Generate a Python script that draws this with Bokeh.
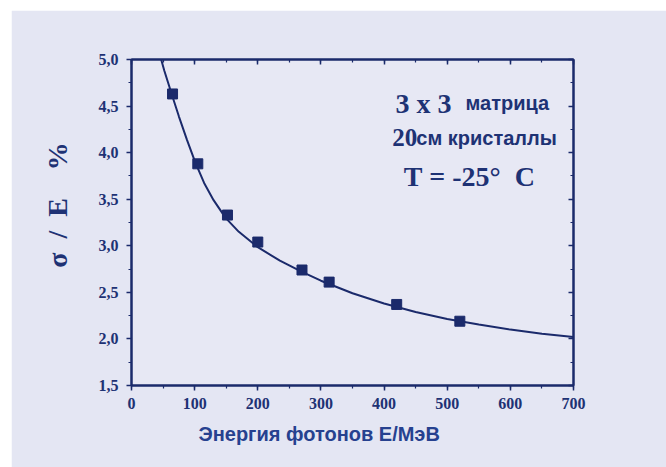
from bokeh.plotting import figure
from bokeh.models import (Range1d, LinearAxis, SingleIntervalTicker,
                          CustomJSTickFormatter, Label)
from bokeh.embed import file_html
from bokeh.resources import INLINE

# measured points
energy = [65, 105, 152, 200, 270, 313, 420, 520]
resolution = [4.63, 3.88, 3.33, 3.04, 2.74, 2.61, 2.37, 2.19]

# fitted curve
fit_energy = [47, 52, 58, 65, 75, 88, 101, 115, 130, 149, 170, 200, 235,
              270, 300, 350, 400, 450, 500, 550, 600, 650, 700]
fit_resolution = [5.00, 4.88, 4.75, 4.60, 4.39, 4.135, 3.895, 3.675, 3.49, 3.30,
                  3.15, 2.985, 2.84, 2.72, 2.625, 2.49, 2.38, 2.29, 2.215, 2.155,
                  2.10, 2.055, 2.02]

NB = "\u00a0"
x_label = "Энергия фотонов Е/МэВ" + NB * 12
y_label = NB * 5 + "σ" + NB * 2 + "/" + NB * 2 + "E" + NB * 4 + "%"

NAVY = "#1b2a6b"
TEXT = "#1e3274"
BG = "#e4e6f3"
INNER = "#e7e8f4"
SERIF = "Liberation Serif"
SANS = "Liberation Sans"

p = figure(width=655, height=457, x_range=Range1d(0, 700), y_range=Range1d(1.5, 5.0),
           output_backend="svg", toolbar_location=None,
           x_axis_location=None, y_axis_location=None,
           min_border_left=120, min_border_right=93, min_border_top=49, min_border_bottom=82,
           styles={"margin-left": "11px", "margin-top": "10px"})
p.background_fill_color = INNER
p.border_fill_color = BG
p.outline_line_color = NAVY
p.outline_line_width = 2
p.xgrid.visible = False
p.ygrid.visible = False


def style(ax, inward=False):
    ax.axis_line_color = NAVY
    ax.axis_line_width = 2
    ax.major_tick_line_color = NAVY
    ax.minor_tick_line_color = NAVY
    ax.major_tick_line_width = 1.5
    ax.minor_tick_line_width = 1.2
    if inward:
        ax.major_tick_in, ax.major_tick_out = 5, 0
        ax.minor_tick_in, ax.minor_tick_out = 3, 0
    else:
        ax.major_tick_in, ax.major_tick_out = 0, 5
        ax.minor_tick_in, ax.minor_tick_out = 0, 3
    ax.major_label_text_font = SERIF
    ax.major_label_text_font_style = "bold"
    ax.major_label_text_font_size = "16px"
    ax.major_label_text_color = TEXT
    ax.axis_label_text_font_style = "bold"
    ax.axis_label_text_color = TEXT


xfmt = CustomJSTickFormatter(code="return tick.toFixed(0);")
yfmt = CustomJSTickFormatter(code="return tick.toFixed(1).replace('.', ',');")
blank = CustomJSTickFormatter(code="return '';")

bottom = LinearAxis(ticker=SingleIntervalTicker(interval=100, num_minor_ticks=2), formatter=xfmt,
                    axis_label=x_label)
style(bottom)
bottom.major_label_standoff = 7
bottom.axis_label_text_font = SANS
bottom.axis_label_text_font_size = "20px"
bottom.axis_label_text_color = "#26418f"
bottom.axis_label_standoff = 11
p.add_layout(bottom, "below")

left = LinearAxis(ticker=SingleIntervalTicker(interval=0.5, num_minor_ticks=2), formatter=yfmt,
                  axis_label=y_label)
style(left)
left.major_label_standoff = 8
left.axis_label_text_font = SERIF
left.axis_label_text_font_size = "28px"
left.axis_label_standoff = 23
p.add_layout(left, "left")

top = LinearAxis(ticker=SingleIntervalTicker(interval=100, num_minor_ticks=2), formatter=blank)
style(top, inward=True)
top.major_label_text_font_size = "1px"
p.add_layout(top, "above")

right = LinearAxis(ticker=SingleIntervalTicker(interval=0.5, num_minor_ticks=2), formatter=blank)
style(right, inward=True)
right.major_label_text_font_size = "1px"
p.add_layout(right, "right")

p.line(fit_energy, fit_resolution, line_color=NAVY, line_width=2)
p.scatter(energy, resolution, marker="square", size=10, fill_color=NAVY, line_color=NAVY)


def lab(x, y, t, font, size):
    p.add_layout(Label(x=x, y=y, text=t, text_align="left", text_baseline="alphabetic",
                       text_font=font, text_font_style="bold", text_font_size=size,
                       text_color=TEXT))


lab(418, 4.53, "3" + NB + "x" + NB + "3", SERIF, "28px")
lab(529, 4.53, "матрица", SANS, "20px")
lab(413, 4.16, "20", SERIF, "25px")
lab(451, 4.16, "см кристаллы", SANS, "20px")
lab(431, 3.74, "T" + NB + "=" + NB + "-25°" + NB + NB + "C", SERIF, "28px")

open("out.html", "w").write(file_html(p, INLINE))
